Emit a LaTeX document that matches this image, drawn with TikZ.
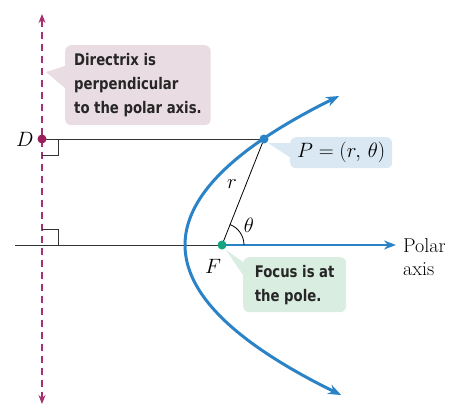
\documentclass[tikz,border=0pt]{standalone}
\usepackage{fontspec}
\usetikzlibrary{arrows.meta,calc}
\newfontfamily\callfont[FakeStretch=0.92]{DejaVu Sans Condensed Bold}
\definecolor{dirc}{HTML}{A5306F}
\definecolor{dotD}{HTML}{9B1D5C}
\definecolor{curveblue}{HTML}{2A82C7}
\definecolor{dotF}{HTML}{16A37F}
\definecolor{pinkbox}{HTML}{EADCE3}
\definecolor{bluebox}{HTML}{D9E8F2}
\definecolor{greenbox}{HTML}{D9EDE0}
\tikzset{
  callout/.style={rounded corners=6pt, inner xsep=9pt, inner ysep=5pt, align=left, font=\callfont\fontsize{16}{24}\selectfont, text=black!85},
  thinline/.style={line width=0.9pt, black!80},
  mathlbl/.style={font=\fontsize{20}{22}\selectfont},
}
\begin{document}
\begin{tikzpicture}[x=1pt,y=-1pt]
\useasboundingbox (0,0) rectangle (453,404);
% coordinates
\coordinate (Dtop) at (42,14);
\coordinate (Dbot) at (42,404);
\coordinate (D) at (42,139);
\coordinate (P) at (264,139);
\coordinate (F) at (222,245);
\coordinate (Lstart) at (15,245);
\coordinate (Aend) at (396,245);
\coordinate (O) at (42,245);
% directrix
\draw[dirc, line width=1.2pt, dash pattern=on 7pt off 5pt, {Stealth[length=9pt,width=7pt]}-{Stealth[length=9pt,width=7pt]}] (Dtop) -- (Dbot);
% horizontal lines
\draw[thinline] (D) -- (P);
\draw[thinline] (Lstart) -- (F);
\draw[curveblue, line width=2.2pt, -{Stealth[length=12pt,width=9pt]}] (F) -- (Aend);
% right angle marks
\draw[thinline] (42,155) -- (58,155) -- (58,139);
\draw[thinline] (42,229) -- (58,229) -- (58,245);
% FP
\draw[line width=0.8pt] (F) -- (P);
\draw[line width=0.8pt] ($(F)+(22,0)$) arc[start angle=0, end angle=-68.9, radius=22];
% parabola
\draw[curveblue, line width=3pt, {Stealth[length=13pt,width=10pt]}-{Stealth[length=13pt,width=10pt]}] plot[domain=96:395, samples=80, smooth, variable=\t] ({185+0.694*((\t-245)/10)^2},\t);
% callouts
\node[callout, fill=pinkbox, anchor=north west, minimum width=142pt, minimum height=80pt] (dbox) at (65,45) {Directrix is\\perpendicular\\to the polar axis.};
\fill[pinkbox] (46,72) -- (dbox.west |- 0,66) -- (dbox.west |- 0,88) -- cycle;
\node[rounded corners=6pt, fill=bluebox, anchor=north west, minimum width=102pt, minimum height=31pt, mathlbl] (pbox) at (290,137) {$P=(r,\,\theta)$};
\fill[bluebox] (268,143) -- (291,143) -- (291,158) -- cycle;
\node[callout, fill=greenbox, anchor=north west, minimum width=103pt, minimum height=55pt] (fbox) at (243,257) {Focus is at\\the pole.};
\fill[greenbox] (226,250) -- (243,262) -- (243,275) -- cycle;
% dots
\fill[dotD] (D) circle (4.5pt);
\fill[curveblue] (P) circle (4.5pt);
\fill[dotF] (F) circle (4.5pt);
% labels
\node[mathlbl, anchor=east] (Dl) at (37,139) {$D$};
\node[mathlbl] (Fl) at (213,266) {$F$};
\node[mathlbl] (rl) at (232,184) {$r$};
\node[mathlbl] (tl) at (249,225) {$\theta$};
\node[anchor=west, align=left, font=\fontsize{20}{23}\selectfont, inner sep=0pt] (pa) at (403,257) {Polar\\axis};
\end{tikzpicture}
\end{document}
